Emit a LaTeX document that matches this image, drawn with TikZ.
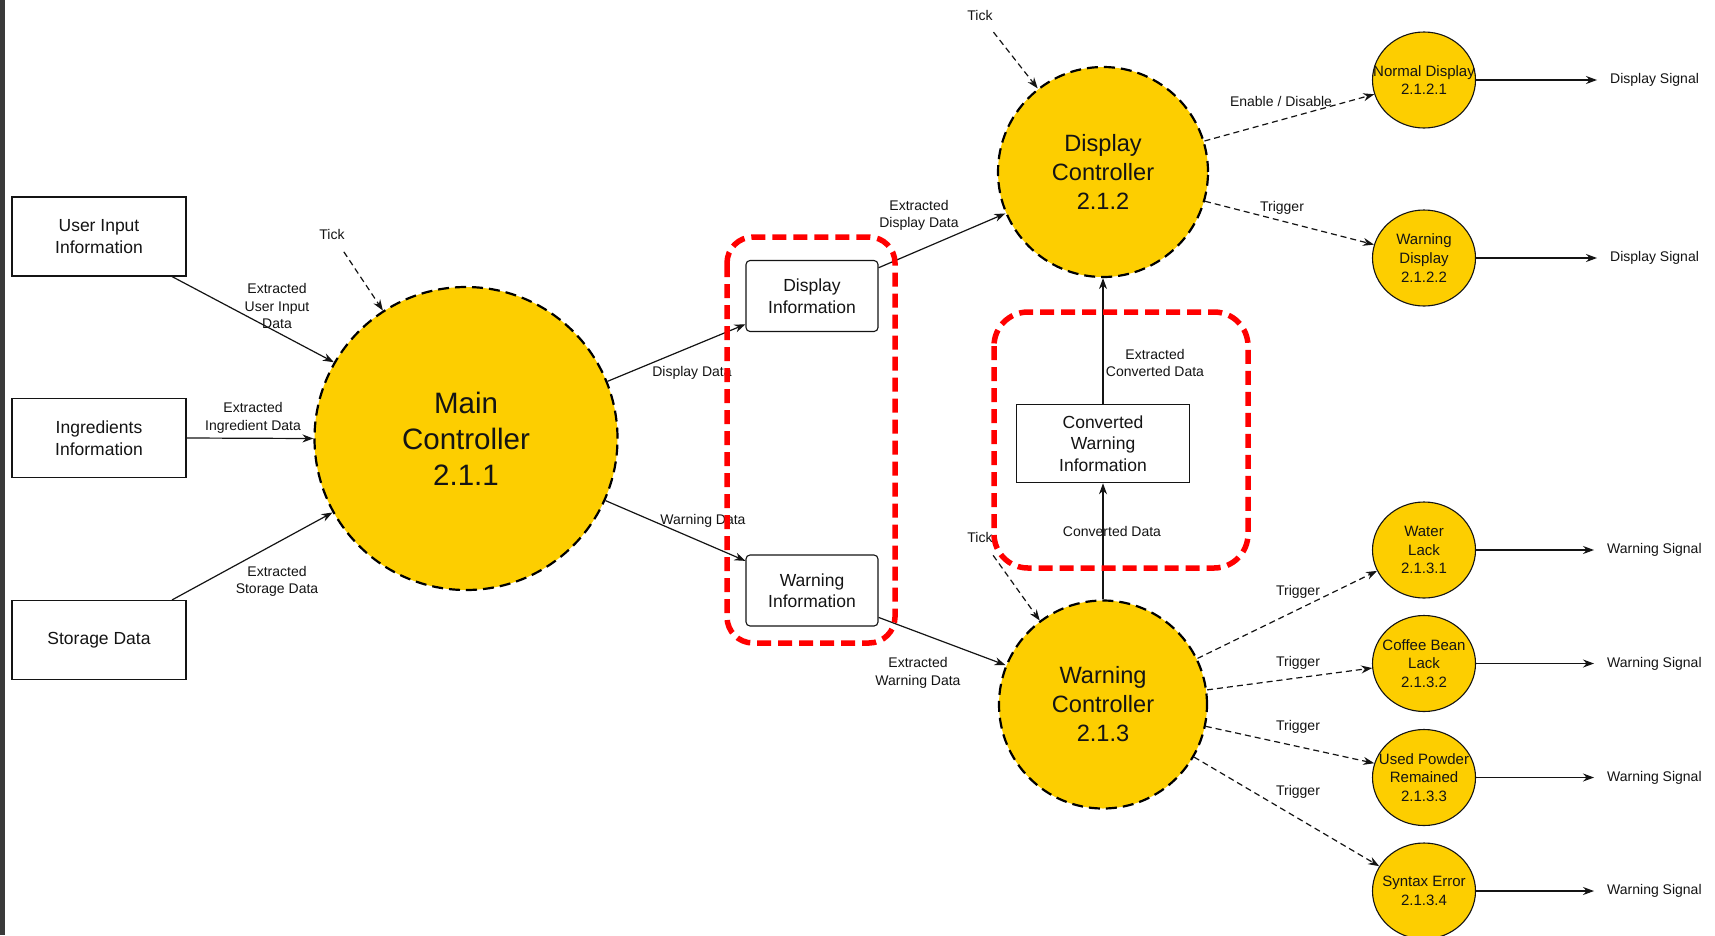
\documentclass[tikz,border=0pt]{standalone}
\usepackage{fontspec}
\setmainfont{Liberation Sans}
\usetikzlibrary{arrows.meta,shapes.geometric}
\definecolor{procyellow}{RGB}{253,206,0}
\definecolor{darkbar}{RGB}{58,58,58}
\definecolor{inkc}{RGB}{20,20,20}
\tikzset{
  lblfont/.style={font=\fontsize{14pt}{17.5pt}\selectfont},
  boxfont/.style={font=\fontsize{17.5pt}{21.5pt}\selectfont},
  subfont/.style={font=\fontsize{15pt}{18.6pt}\selectfont},
  lbl/.style={lblfont, inner sep=0pt, align=center, text=inkc},
  store/.style={draw=inkc, line width=1.1pt, rectangle, align=center, boxfont, inner sep=0pt,
                minimum width=174pt, minimum height=79pt, text=inkc},
  infobox/.style={store, rounded corners=4pt, minimum width=132pt, minimum height=71pt},
  bigproc/.style={circle, draw=black, fill=procyellow, line width=2.2pt,
                  dash pattern=on 11pt off 6pt, inner sep=0pt, align=center, text=inkc},
  subproc/.style={ellipse, draw=inkc, fill=procyellow, line width=1.1pt, inner sep=0pt,
                  minimum width=103pt, minimum height=96pt},
  subtext/.style={subfont, align=center, inner sep=0pt, text=inkc},
  flow/.style={draw=inkc, line width=1.2pt, -{Stealth[length=11pt,width=8pt]}},
  ctrl/.style={flow, dash pattern=on 6pt off 4pt},
  redgroup/.style={draw=red, line width=5.5pt, dash pattern=on 14pt off 7pt}
}
\begin{document}
\begin{tikzpicture}[x=1pt,y=-1pt]
\useasboundingbox (0,0) rectangle (1715,935);
\clip (0,0) rectangle (1715,935);
\fill[white] (0,0) rectangle (1715,935);
\fill[darkbar] (0,0) rectangle (4.5,935);

% external entities
\node[store] (user) at (99,236.5) {User Input\\Information};
\node[store] (ingr) at (99,438) {Ingredients\\Information};
\node[store] (stor) at (99,640) {Storage Data};

% main controller
\node[bigproc, minimum size=303pt, font=\fontsize{29.5pt}{36pt}\selectfont] (main) at (466,438.5) {Main\\Controller\\2.1.1};

% data stores
\node[infobox] (dispinfo) at (812,296) {Display\\Information};
\node[infobox] (warninfo) at (812,590.5) {Warning\\Information};
\node[store, minimum width=173.5pt, minimum height=78.5pt] (conv) at (1103,443.5) {Converted\\Warning\\Information};

% sub controllers
\node[bigproc, minimum size=210pt, font=\fontsize{23.6pt}{29pt}\selectfont] (dispctl) at (1103,172) {Display\\Controller\\2.1.2};
\node[bigproc, minimum size=208pt, font=\fontsize{23.6pt}{29pt}\selectfont] (warnctl) at (1103,704.5) {Warning\\Controller\\2.1.3};

% leaf processes
\node[subproc, label={[subtext]center:{Normal Display\\2.1.2.1}}] (normdisp) at (1424,80) {};
\node[subproc, label={[subtext]center:{Warning\\Display\\2.1.2.2}}] (warndisp) at (1424,258) {};
\node[subproc, label={[subtext]center:{Water\\Lack\\2.1.3.1}}] (water) at (1424,550) {};
\node[subproc, label={[subtext]center:{Coffee Bean\\Lack\\2.1.3.2}}] (coffee) at (1424,663.5) {};
\node[subproc, label={[subtext]center:{Used Powder\\Remained\\2.1.3.3}}] (powder) at (1424,777.5) {};
\node[subproc, label={[subtext]center:{Syntax Error\\2.1.3.4}}] (syntax) at (1424,891) {};

% output labels
\node[lbl, anchor=west] (sig1) at (1610,80) {Display Signal};
\node[lbl, anchor=west] (sig2) at (1610,258) {Display Signal};
\node[lbl, anchor=west] (sig3) at (1607,550) {Warning Signal};
\node[lbl, anchor=west] (sig4) at (1607,663.5) {Warning Signal};
\node[lbl, anchor=west] (sig5) at (1607,777.5) {Warning Signal};
\node[lbl, anchor=west] (sig6) at (1607,891) {Warning Signal};

% tick labels
\node[lbl] (tick1) at (332,234) {Tick};
\node[lbl] (tick2) at (980,15) {Tick};
\node[lbl] (tick3) at (980,537) {Tick};

% flow labels
\node[lbl] (lu) at (277,306) {Extracted\\User Input\\Data};
\node[lbl] (li) at (253,418) {Extracted\\Ingredient Data};
\node[lbl] (ls) at (277,581.5) {Extracted\\Storage Data};
\node[lbl] (ldd) at (692,373) {Display Data};
\node[lbl] (lwd) at (703,521) {Warning Data};
\node[lbl] (led) at (919,215.5) {Extracted\\Display Data};
\node[lbl] (lew) at (918,673) {Extracted\\Warning Data};
\node[lbl] (lec) at (1155,363) {Extracted\\Converted Data};
\node[lbl] (lcd) at (1112,531) {Converted Data};
\node[lbl] (len) at (1281,101) {Enable / Disable};
\node[lbl] (ltd) at (1282,208) {Trigger};
\node[lbl] (lt1) at (1298,592) {Trigger};
\node[lbl] (lt2) at (1298,663) {Trigger};
\node[lbl] (lt3) at (1298,727) {Trigger};
\node[lbl] (lt4) at (1298,792) {Trigger};

% flows into main
\draw[flow] (user.south -| 172,0) -- (main.150.6);
\draw[flow] (ingr.east) -- (main.west);
\draw[flow] (stor.north -| 172,0) -- (main.209);
\draw[ctrl, shorten <=15pt] (tick1) -- (main.123);

% main to stores
\draw[flow] (main.22.5) -- (dispinfo.203.7);
\draw[flow] (main.-24) -- (warninfo.156);

% stores to controllers
\draw[flow] (dispinfo.23.7) -- (dispctl.203);
\draw[flow] (warninfo.-22) -- (warnctl.158);
\draw[flow] (warnctl.north) -- (conv.south);
\draw[flow] (conv.north) -- (dispctl.south);
\draw[ctrl, shorten <=15pt] (tick2) -- (dispctl.128);
\draw[ctrl, shorten <=16pt] (tick3) -- (warnctl.127);

% controllers to leaves
\draw[ctrl] (dispctl.17) -- (normdisp.196);
\draw[ctrl] (dispctl.-16) -- (warndisp.165);
\draw[ctrl] (warnctl.26.2) -- (water.204);
\draw[ctrl] (warnctl.8.1) -- (coffee.185);
\draw[ctrl] (warnctl.-12.1) -- (powder.164);
\draw[ctrl] (warnctl.-30.6) -- (syntax.151);

% leaves to signals
\draw[flow, shorten >=13pt] (normdisp) -- (sig1);
\draw[flow, shorten >=13pt] (warndisp) -- (sig2);
\draw[flow, shorten >=13pt] (water) -- (sig3);
\draw[flow, shorten >=13pt] (coffee) -- (sig4);
\draw[flow, shorten >=13pt] (powder) -- (sig5);
\draw[flow, shorten >=13pt] (syntax) -- (sig6);

% red highlight groups
\draw[redgroup, rounded corners=26pt] (727,237) rectangle (895,643);
\draw[redgroup, rounded corners=34pt] (994,312) rectangle (1248,568);
\end{tikzpicture}
\end{document}
